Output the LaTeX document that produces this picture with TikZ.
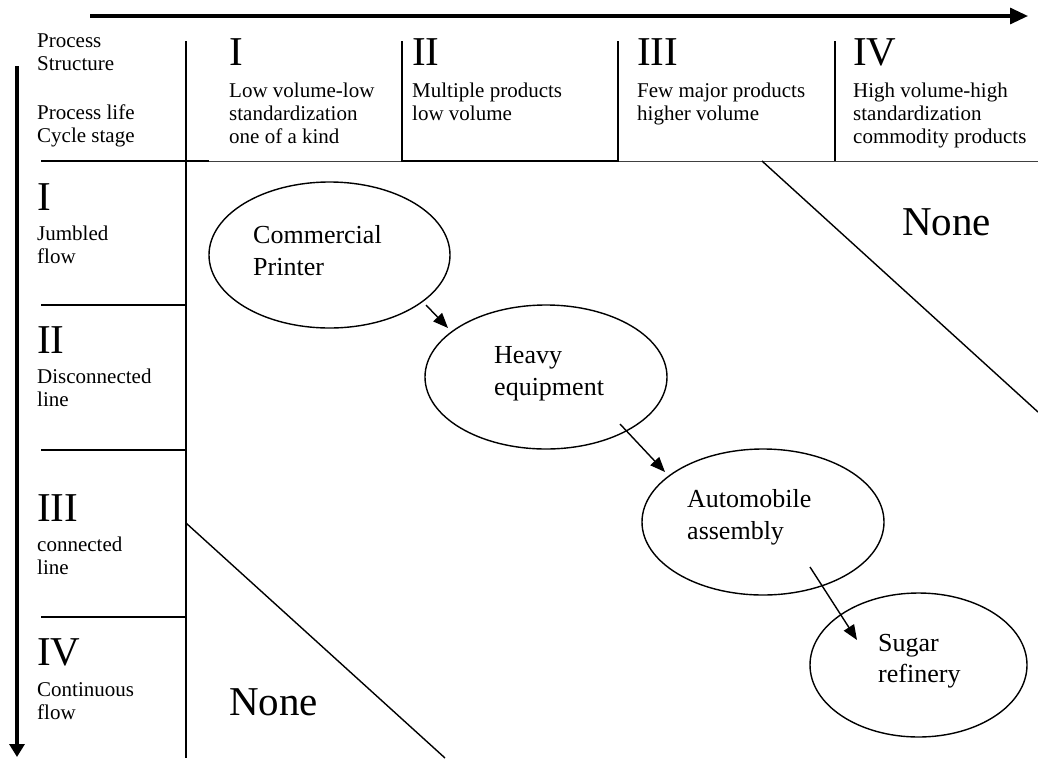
\documentclass[tikz,border=0pt]{standalone}
\usepackage{fontspec}
\setmainfont{Liberation Serif}
\usetikzlibrary{shapes.geometric,arrows.meta,calc}
% top-aligned left column of lines: baseline is the first line
\newcommand{\stk}[1]{\begin{tabular}[t]{@{}l@{}}#1\end{tabular}}

\begin{document}
\begin{tikzpicture}[x=1pt,y=-1pt,
  small/.style={anchor=base west,inner sep=0pt,font=\fontsize{21}{23}\selectfont},
  roman/.style={anchor=base west,inner sep=0pt,font=\fontsize{41}{45}\selectfont},
  inner/.style={anchor=base west,inner sep=0pt,font=\fontsize{26}{31.5}\selectfont},
  oval/.style={ellipse,draw,line width=1.4pt,inner sep=0pt},
  gridline/.style={line width=1.4pt},
  hairline/.style={line width=0.9pt,black!75},
  axis/.style={line width=3.2pt},
  flow/.style={line width=1.4pt,-{Triangle[length=15pt,width=12pt]}}]

\useasboundingbox (0,0) rectangle (1038,758);

% axes: process structure (horizontal) and life cycle stage (vertical)
\coordinate (hx0) at (90,16);
\coordinate (hx1) at (1028,16);
\draw[axis,-{Triangle[length=18pt,width=16pt]}] (hx0) -- (hx1);
\coordinate (vy0) at (17,66);
\coordinate (vy1) at (17,757);
\draw[axis,-{Triangle[length=13pt,width=15pt]}] (vy0) -- (vy1);

% table rules
\draw[gridline] (186,41) -- (186,758);
\draw[gridline] (41,161) -- (209,161);
\draw[hairline] (209,161) -- (1038,161);
\draw[gridline] (402,41) -- (402,161) -- (618,161) -- (618,41);
\draw[gridline] (835,41) -- (835,161);
\draw[gridline] (41,305) -- (186,305);
\draw[gridline] (41,450) -- (186,450);
\draw[gridline] (41,617) -- (186,617);

% boundaries of the empty corners
\draw[gridline] (762,161) -- (1038,412);
\draw[gridline] (186,523) -- (445,758);

% header
\node[small] (ps) at (37,47) {\stk{Process\\Structure}};
\node[small] (pl) at (37,119.5) {\stk{Process life\\Cycle stage}};

\node[roman] (c1) at (229,65) {I};
\node[small] (c1t) at (229,97.5) {\stk{Low volume-low\\standardization\\one of a kind}};
\node[roman] (c2) at (412,65) {II};
\node[small] (c2t) at (412,97.5) {\stk{Multiple products\\low volume}};
\node[roman] (c3) at (637,65) {III};
\node[small] (c3t) at (637,97.5) {\stk{Few major products\\higher volume}};
\node[roman] (c4) at (853,65) {IV};
\node[small] (c4t) at (853,97.5) {\stk{High volume-high\\standardization\\commodity products}};

% life cycle stages
\node[roman] (r1) at (37,210) {I};
\node[small] (r1t) at (37,240) {\stk{Jumbled\\flow}};
\node[roman] (r2) at (37,353) {II};
\node[small] (r2t) at (37,383.5) {\stk{Disconnected\\line}};
\node[roman] (r3) at (37,521.5) {III};
\node[small] (r3t) at (37,551.5) {\stk{connected\\line}};
\node[roman] (r4) at (37,665) {IV};
\node[small] (r4t) at (37,696) {\stk{Continuous\\flow}};

\node[roman] (n1) at (902,235) {None};
\node[roman] (n2) at (229,715) {None};

% industries along the diagonal
\node[oval,minimum width=241pt,minimum height=146pt] (cp) at (329.5,255) {};
\node[oval,minimum width=242pt,minimum height=144pt] (he) at (546,377) {};
\node[oval,minimum width=242pt,minimum height=146pt] (au) at (763,522) {};
\node[oval,minimum width=217pt,minimum height=144pt] (su) at (918.5,665) {};

\node[inner] (cpt) at (253,243.5) {\stk{Commercial\\Printer}};
\node[inner] (het) at (494,363.5) {\stk{Heavy\\equipment}};
\node[inner] (aut) at (687,507.5) {\stk{Automobile\\assembly}};
\node[inner] (sut) at (878,651) {\stk{Sugar\\refinery}};

\draw[flow] ($(cp.center)+(96.5,50)$) -- ($(he.center)+(-98,-49)$);
\draw[flow] ($(he.center)+(74,47)$) -- ($(au.center)+(-98,-50)$);
\draw[flow] ($(au.center)+(47,45)$) -- ($(su.center)+(-61.5,-25)$);
\end{tikzpicture}
\end{document}
